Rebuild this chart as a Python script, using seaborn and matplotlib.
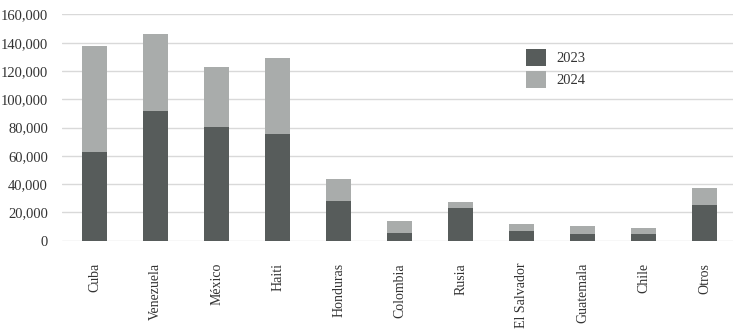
import matplotlib
matplotlib.use('Agg')

import matplotlib.pyplot as plt
import matplotlib.ticker as mticker
import numpy as np
import pandas as pd
import seaborn as sns

countries = ['Cuba', 'Venezuela', 'México', 'Haiti', 'Honduras', 'Colombia',
             'Rusia', 'El Salvador', 'Guatemala', 'Chile', 'Otros']
y2023 = [62500, 91700, 80300, 75400, 28000, 5400, 23100, 6800, 4700, 4700, 25200]
y2024 = [75000, 54400, 42400, 53700, 15600, 8500, 4200, 5000, 5700, 4200, 12000]

dark = '#575c5b'
light = '#a9acab'

sns.set_theme(style='white')
plt.rcParams['font.family'] = ['Liberation Serif', 'DejaVu Serif']

df = pd.DataFrame({'country': countries, '2023': y2023, '2024': y2024})
df['total'] = df['2023'] + df['2024']

fig = plt.figure(figsize=(7.33, 3.35), dpi=100)
ax = fig.add_axes([0.0846, 0.2815, 0.9154, 0.6755])

sns.barplot(data=df, x='country', y='total', color=light, width=0.41,
            saturation=1, ax=ax, label='2024', linewidth=0)
sns.barplot(data=df, x='country', y='2023', color=dark, width=0.41,
            saturation=1, ax=ax, label='2023', linewidth=0)

ax.set_ylim(0, 160000)
ax.set_xlim(-0.535, len(countries) - 0.535)
ax.yaxis.set_major_locator(mticker.MultipleLocator(20000))
ax.yaxis.set_major_formatter(mticker.FuncFormatter(lambda v, p: f'{int(v):,}'))
ax.grid(axis='y', color='#d9d9d9', linewidth=1)
ax.set_axisbelow(True)
for s in ax.spines.values():
    s.set_visible(False)
ax.set_xlabel('')
ax.set_ylabel('')
ax.tick_params(axis='y', labelsize=10.5, colors='#333333', pad=10, length=0)
ax.tick_params(axis='x', labelsize=10, colors='#333333', pad=16, length=0)
plt.setp(ax.get_xticklabels(), rotation=90, ha='center', va='top')

handles, labels = ax.get_legend_handles_labels()
order = [labels.index('2023'), labels.index('2024')]
ax.legend([handles[i] for i in order], [labels[i] for i in order],
          loc='upper left', bbox_to_anchor=(0.672, 0.905), frameon=False,
          fontsize=10.5, handlelength=1.4, handleheight=1.4, labelspacing=0.35,
          handletextpad=0.7, labelcolor='#333333')

plt.savefig('out.png', dpi=100)
